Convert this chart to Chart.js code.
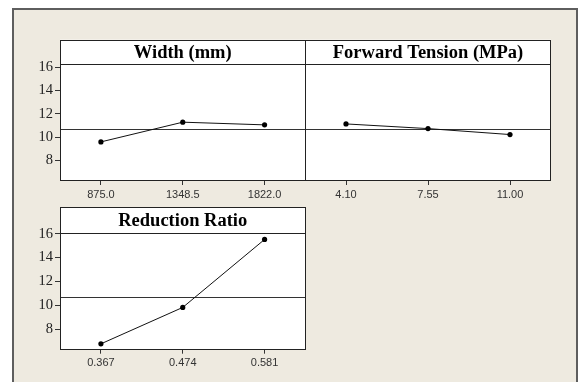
<!DOCTYPE html>
<html>
<head>
<meta charset="utf-8">
<script src="https://cdn.jsdelivr.net/npm/chart.js@4/dist/chart.umd.min.js"></script>
<style>
  html, body { margin: 0; padding: 0; background: #fff; width: 579px; height: 382px; overflow: hidden; position: relative; }
  #frame { position: absolute; left: 12px; top: 8px; width: 562px; height: 400px; background: #EEEAE0;
           border: 2px solid #5e5e5e; border-bottom: none; }
  canvas { position: absolute; left: 0; top: 0; }
</style>
</head>
<body>
<div id="frame"></div>
<canvas id="pWidth" width="579" height="382"></canvas>
<canvas id="pTension" width="579" height="382"></canvas>
<canvas id="pRatio" width="579" height="382"></canvas>
<script>
// Main effects for means: factor levels and their mean responses
const widthLevels = ['875.0', '1348.5', '1822.0'];
const widthMeans = [9.60, 11.29, 11.06];

const tensionLevels = ['4.10', '7.55', '11.00'];
const tensionMeans = [11.14, 10.74, 10.23];

const ratioLevels = ['0.367', '0.474', '0.581'];
const ratioMeans = [6.78, 9.83, 15.52];

const panelTitles = ['Width (mm)', 'Forward Tension (MPa)', 'Reduction Ratio'];
const yTicks = [8, 10, 12, 14, 16];
const grandMean = 10.7;

// White panel, title strip, reference line at the grand mean and the outline boxes
const panelFrame = {
  id: 'panelFrame',
  beforeDraw(chart, args, opts) {
    const { ctx, chartArea: a } = chart;
    ctx.save();
    ctx.fillStyle = '#ffffff';
    ctx.fillRect(a.left, a.top - opts.titleHeight, a.right - a.left, a.bottom - a.top + opts.titleHeight);
    const y = Math.round(chart.scales.y.getPixelForValue(grandMean)) + 0.5;
    ctx.strokeStyle = '#333';
    ctx.lineWidth = 1;
    ctx.beginPath();
    ctx.moveTo(a.left, y);
    ctx.lineTo(a.right, y);
    ctx.stroke();
    ctx.restore();
  },
  afterDraw(chart, args, opts) {
    const { ctx, chartArea: a } = chart;
    const L = Math.round(a.left) + 0.5, R = Math.round(a.right) - 0.5;
    const T = Math.round(a.top) + 0.5, B = Math.round(a.bottom) - 0.5;
    const TT = Math.round(a.top - opts.titleHeight) + 0.5;
    ctx.save();
    ctx.strokeStyle = '#222';
    ctx.lineWidth = 1;
    ctx.strokeRect(L, TT, R - L, T - TT);
    ctx.strokeRect(L, T, R - L, B - T);
    ctx.fillStyle = '#000';
    ctx.font = 'bold 18.5px "Liberation Serif", "Times New Roman", serif';
    ctx.textAlign = 'center';
    ctx.textBaseline = 'middle';
    ctx.fillText(opts.title, (a.left + a.right) / 2, a.top - opts.titleHeight / 2 + 1);
    ctx.restore();
  }
};

function makePanel(id, labels, values, title, pad, titleHeight, yMin, yMax, showY) {
  return new Chart(document.getElementById(id), {
    type: 'line',
    data: {
      labels: labels,
      datasets: [{
        data: values,
        borderColor: '#111',
        borderWidth: 1,
        pointRadius: 2.6,
        pointBackgroundColor: '#000',
        pointBorderWidth: 0,
        tension: 0
      }]
    },
    options: {
      responsive: false,
      animation: false,
      layout: { padding: pad },
      plugins: {
        legend: { display: false },
        tooltip: { enabled: false },
        panelFrame: { title: title, titleHeight: titleHeight }
      },
      scales: {
        x: {
          type: 'category',
          offset: true,
          grid: { display: true, drawOnChartArea: false, drawTicks: true, tickLength: 4, color: '#333' },
          border: { display: false },
          ticks: { font: { family: 'Liberation Sans', size: 11 }, color: '#333', padding: 3,
                   maxRotation: 0, autoSkip: false },
          afterFit(s) { s.height = 20; }
        },
        y: {
          display: showY,
          min: yMin,
          max: yMax,
          afterBuildTicks(s) { s.ticks = yTicks.map(v => ({ value: v })); },
          grid: { drawOnChartArea: false, drawTicks: true, tickLength: 5, color: '#333' },
          border: { display: false },
          ticks: { font: { family: 'Liberation Serif', size: 14.5 }, color: '#222', padding: 2 },
          afterFit(s) { s.width = showY ? 40 : 0; }
        }
      }
    },
    plugins: [panelFrame]
  });
}

makePanel('pWidth', widthLevels, widthMeans, panelTitles[0],
  { left: 20, top: 64.3, right: 273.5, bottom: 181 }, 24.6, 6.25, 16.25, true);
makePanel('pTension', tensionLevels, tensionMeans, panelTitles[1],
  { left: 305, top: 64.3, right: 28, bottom: 181 }, 24.6, 6.25, 16.25, false);
makePanel('pRatio', ratioLevels, ratioMeans, panelTitles[2],
  { left: 20, top: 233, right: 273.5, bottom: 12.3 }, 25.7, 6.29, 16.06, true);
</script>
</body>
</html>
